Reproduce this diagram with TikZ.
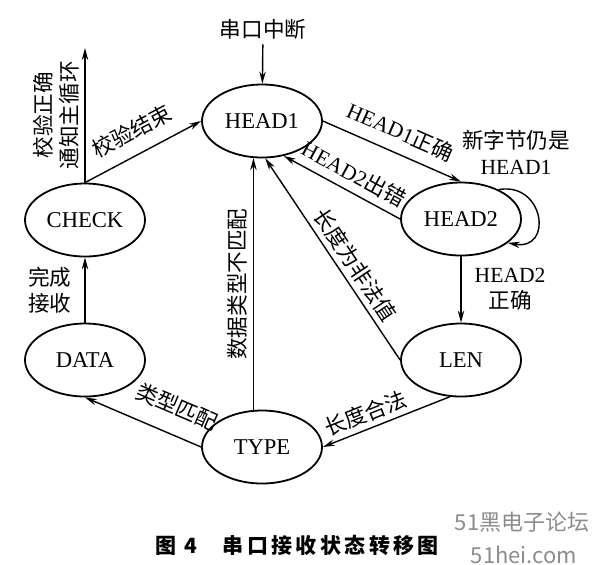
\documentclass[tikz,border=0pt]{standalone}
\usepackage{fontspec}
\setmainfont{Liberation Serif}
\newfontfamily\cjk{Noto Sans CJK SC}
\usetikzlibrary{shapes.geometric,positioning,arrows.meta}

\begin{document}
\begin{tikzpicture}[x=0.5pt,y=-0.5pt,on grid,
  stnode/.style={ellipse,draw,line width=0.9pt,minimum width=60pt,minimum height=36.5pt,inner sep=0pt,font=\fontsize{11.3}{13}\selectfont},
  tr/.style={-{Stealth[length=6pt,width=3.2pt]},line width=0.7pt},
  lbl/.style={font=\fontsize{10.8}{13}\selectfont,inner sep=2.5pt},
  zh/.style={lbl,font=\fontsize{10.8}{13}\selectfont\cjk}]
\useasboundingbox (0,0) rectangle (592,564);
\node[stnode] (head1) at (262,121) {HEAD1};
\node[stnode, below right=49pt and 99.5pt of head1] (head2) {HEAD2};
\node[stnode, below=70.5pt of head2] (len) {LEN};
\node[stnode, below left=43.5pt and 99.5pt of len] (type) {TYPE};
\node[stnode, above left=43.5pt and 88.5pt of type] (data) {DATA};
\node[stnode, above=70pt of data] (check) {CHECK};
\node[zh] (irq) at (263,29) {串口中断};
\coordinate (notify) at (85,48);
\draw[tr] (irq) -- (head1);
\draw[tr] (head1.east) -- node[lbl,above=3pt,sloped] {HEAD1{\cjk 正确}} (head2.north);
\draw[tr] (head2.west) -- node[lbl,above=1pt,sloped,pos=0.47] {HEAD2{\cjk 出错}} (head1.-58);
\draw[tr] (head2.38) to[out=10,in=-10,looseness=2.2] (head2.-27);
\node[lbl,align=center] (newbyte) at (516,152) {{\cjk 新字节仍是}\\HEAD1};
\draw[tr] (head2) -- node[lbl,right=4pt,align=center] {HEAD2\\{\cjk 正确}} (len);
\draw[tr] (len.west) -- node[zh,above,sloped,pos=0.43] {长度为非法值} (head1.-85);
\draw[tr] (len.-107) -- node[zh,above,sloped,pos=0.62] {长度合法} (type.east);
\draw[tr] (type.103) -- node[zh,above,sloped] {数据类型不匹配} (head1.-103);
\draw[tr] (type.west) -- node[zh,above=6pt,sloped,pos=0.3] {类型匹配} (data.south);
\draw[tr] (data) -- node[zh,left=4pt,align=center] {完成\\接收} (check);
\draw[tr] (check.north) -- node[zh,above=4pt,sloped] {校验结束} (head1.west);
\draw[tr] (check.north) -- node[zh,above,sloped,align=center] {校验正确\\通知主循环} (notify);
\node[anchor=west,font=\fontsize{10.5}{12}\selectfont\cjk\bfseries\addfontfeature{LetterSpace=16}] (caption) at (148,545) {图\hspace{4pt}4\hspace{13pt}串口接收状态转移图};
\node[text=black!45,font=\fontsize{11}{13}\selectfont\cjk] (mark1) at (522,522) {51黑电子论坛};
\node[text=black!45,font=\fontsize{11}{13}\selectfont\cjk] (mark2) at (524,555) {51hei.com};
\end{tikzpicture}
\end{document}
